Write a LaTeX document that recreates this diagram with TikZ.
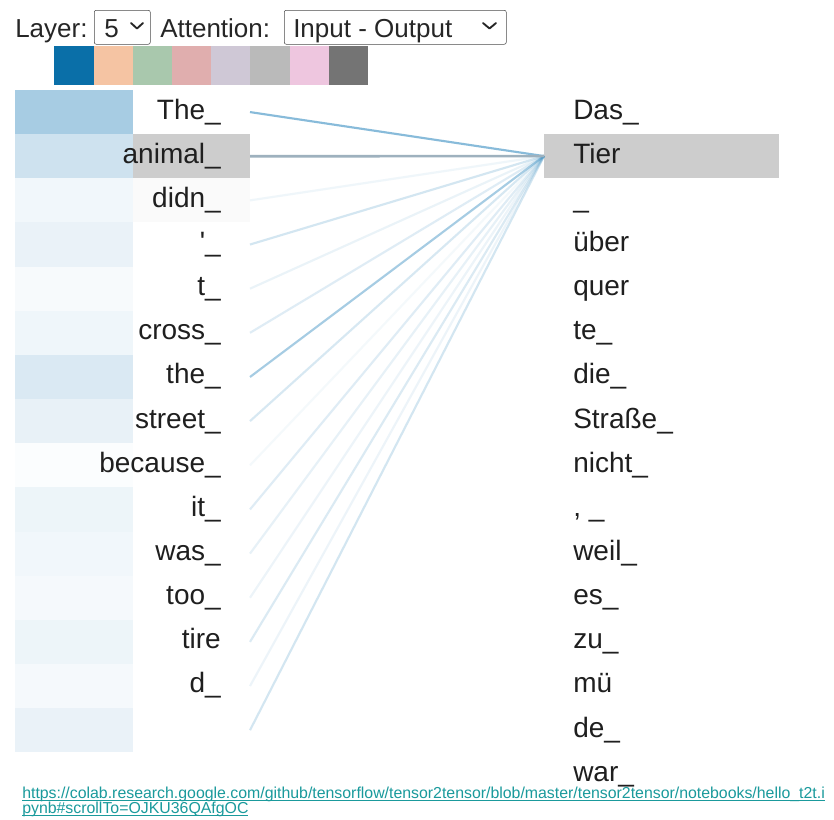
\documentclass[tikz,border=0pt]{standalone}
\usepackage{fontspec}
\setmainfont{Liberation Sans}
\usepackage{xcolor}
\usetikzlibrary{positioning}

% attention colours
\definecolor{heatblue}{HTML}{3C8DC0}
\definecolor{linkblue}{HTML}{3A8FC2}
\definecolor{linkgray}{HTML}{9EB1BE}
\definecolor{selgray}{HTML}{CDCDCD}
\definecolor{urlteal}{HTML}{1A9A9C}
% one swatch per head
\definecolor{headA}{HTML}{0A6FA8}
\definecolor{headB}{HTML}{F5C4A3}
\definecolor{headC}{HTML}{A9C8AD}
\definecolor{headD}{HTML}{E0AEAE}
\definecolor{headE}{HTML}{CFC8D6}
\definecolor{headF}{HTML}{BABABA}
\definecolor{headG}{HTML}{EEC6DF}
\definecolor{headH}{HTML}{747474}

\newcommand{\urltext}[1]{\underline{\smash{#1}}}

\begin{document}
\begin{tikzpicture}[
    x=0.75pt, y=-0.75pt,
    heat/.style={rectangle, anchor=north west, inner sep=0pt, outer sep=0pt, minimum width=88.5pt, minimum height=33.11pt},
    cell/.style={rectangle, inner sep=0pt, outer sep=0pt, minimum width=87.75pt, minimum height=33.11pt},
    word/.style={inner sep=0pt, font=\fontsize{21}{24}\selectfont, text=black!88},
    ctrl/.style={inner sep=0pt, anchor=base west, font=\fontsize{19.5}{23}\selectfont, text=black!85},
    swatch/.style={rectangle, anchor=north west, inner sep=0pt, outer sep=0pt, minimum width=29.4pt, minimum height=29.25pt},
    menu/.style={rectangle, draw=black!70, rounded corners=1.5pt, anchor=north west, inner sep=0pt, minimum height=25.5pt},
    link/.style={line width=1.6pt, draw=linkblue},
    chev/.style={line width=1.4pt, line cap=round, line join=round, black!85},
    url/.style={inner sep=0pt, anchor=base west, font=\fontsize{11.9}{14}\selectfont, text=urlteal}
]
    \fill[white] (0,0) rectangle (834,819);
    \useasboundingbox (0,0) rectangle (834,819);

    % layer / attention selectors
    \node[ctrl] (layer) at (15,37) {Layer:};
    \node[menu, minimum width=42pt] (layermenu) at (94,10) {};
    \node[ctrl] (layerval) at (104,37) {5};
    \draw[chev] (131,23) -- (137,28.5) -- (143,23);
    \node[ctrl] (attn) at (160,37) {Attention:};
    \node[menu, minimum width=166.5pt] (attnmenu) at (284,10) {};
    \node[ctrl] (attnval) at (293,37) {Input - Output};
    \draw[chev] (483,23) -- (489.5,28.5) -- (496,23);

    % head swatches
    \foreach \c [count=\k] in {headA,headB,headC,headD,headE,headF,headG,headH}
        \node[swatch, fill=\c] (sw\k) at ({54.3+(\k-1)*39.2},46) {};

    % source tokens: heat cell, word cell
    \foreach \w/\h/\f [count=\i] in {The\_/45/white, animal\_/25/selgray, didn\_/7/black!2,
            \textquotesingle\_/11/white, t\_/4/white, cross\_/8/white, the\_/19/white,
            street\_/12/white, because\_/2/white, it\_/9/white, was\_/7/white,
            too\_/5/white, tire/9/white, d\_/5/white, {}/11/white} {
        \node[heat, fill=heatblue!\h!white] (h\i) at (15,{90+(\i-1)*44.15}) {};
        \node[cell, fill=\f, right=0pt of h\i] (c\i) {};
    }

    % selected target token
    \node[heat, fill=selgray, minimum width=176.25pt] (tier) at (544,134) {};

    % attention links
    \foreach \i/\o in {1/0.6, 3/0.08, 4/0.22, 5/0.1, 6/0.16, 7/0.45, 8/0.2, 9/0.05,
            10/0.16, 11/0.12, 12/0.09, 13/0.18, 14/0.09, 15/0.22}
        \draw[link, draw opacity=\o] (c\i.east) -- (tier.west);
    \draw[link, draw=linkgray, line width=2pt] (c2.east) -- (tier.west);

    \foreach \w [count=\i] in {The\_, animal\_, didn\_, \textquotesingle\_, t\_, cross\_,
            the\_, street\_, because\_, it\_, was\_, too\_, tire, d\_}
        \node[word, anchor=base east] (s\i) at (221,{119+(\i-1)*44.15}) {\w};

    % target tokens
    \foreach \w [count=\i] in {Das\_, Tier, \_, über, quer, te\_, die\_, Straße\_, nicht\_,
            {,\ \_}, weil\_, es\_, zu\_, mü, de\_, war\_}
        \node[word, anchor=base west] (t\i) at (573,{119+(\i-1)*44.15}) {\w};

    % source link
    \node[url] (url1) at (22,798)
        {\urltext{https://colab.research.google.com/github/tensorflow/tensor2tensor/blob/master/tensor2tensor/notebooks/hello\_t2t.i}};
    \node[url] (url2) at (22,813.5) {\urltext{pynb\#scrollTo=OJKU36QAfgOC}};
\end{tikzpicture}
\end{document}
